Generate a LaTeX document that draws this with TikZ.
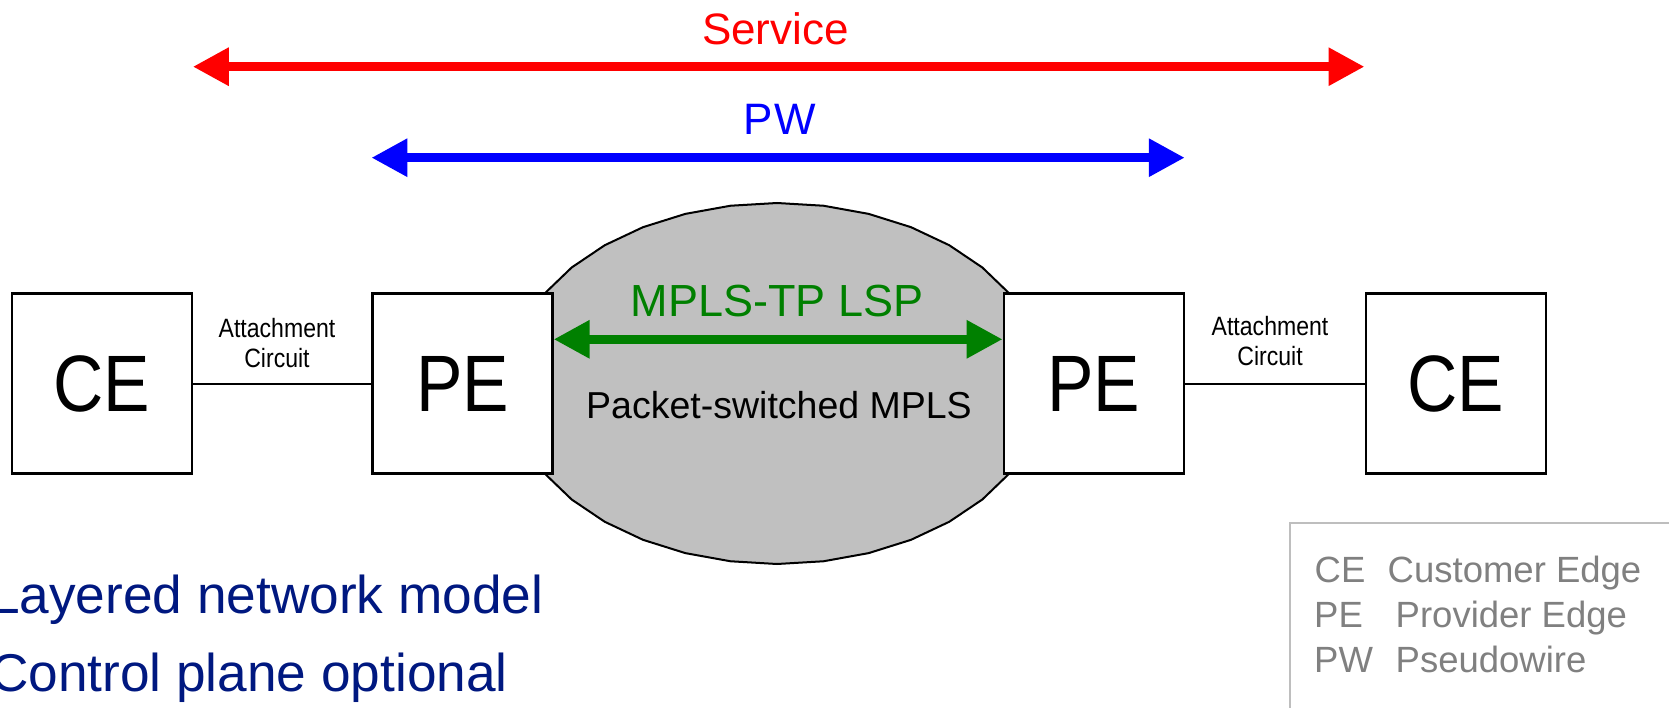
\documentclass[tikz,border=0pt]{standalone}
\usepackage{fontspec}
\setmainfont{Liberation Sans}
\usetikzlibrary{arrows.meta}
\definecolor{svcred}{RGB}{255,0,0}
\definecolor{pwblue}{RGB}{0,0,255}
\definecolor{lspgreen}{RGB}{0,128,0}
\definecolor{navytext}{RGB}{0,24,128}
\definecolor{cloudgray}{RGB}{192,192,192}
\definecolor{leggray}{RGB}{128,128,128}
\definecolor{legborder}{RGB}{190,190,190}
\newcommand{\fsz}[1]{\fontsize{#1}{#1}\selectfont}
\begin{document}
\begin{tikzpicture}[x=1pt,y=-1pt,
  box/.style={draw=black, line width=2.2pt, fill=white, minimum width=180pt,
    minimum height=180pt, inner sep=0pt, font=\fsz{80}},
  conn/.style={draw=black, line width=2pt},
  cloud/.style={draw=black, line width=2pt, fill=cloudgray, line join=miter},
  bigarrow/.style={line width=9.3pt,
    {Triangle[length=36pt,width=36pt]}-{Triangle[length=36pt,width=36pt]}},
  lbl/.style={anchor=base, inner sep=0pt},
  actext/.style={anchor=base, inner sep=0pt, align=center, font=\fontsize{26.5}{30}\selectfont},
  bullet/.style={anchor=base west, inner sep=0pt, text=navytext, font=\fsz{53.2}},
  legtext/.style={anchor=base west, inner sep=0pt, text=leggray, font=\fsz{36.5}},
  legendbox/.style={draw=legborder, line width=2pt, anchor=north west,
    minimum width=420pt, minimum height=260pt, inner sep=0pt}
]
\useasboundingbox (0,0) rectangle (1669,708);

% MPLS cloud (polygonal ellipse)
\draw[cloud] plot[samples at={0,10,...,350}] ({777+268*cos(\x)},{383.5+180.5*sin(\x)}) -- cycle;

% boxes
\node[box] (ce1) at (101.7,383.5) {\scalebox{0.87}[1]{CE}};
\node[box] (pe1) at (462.5,383.5) {\scalebox{0.87}[1]{PE}};
\node[box] (pe2) at (1093.7,383.5) {\scalebox{0.87}[1]{PE}};
\node[box] (ce2) at (1455.6,383.5) {\scalebox{0.87}[1]{CE}};

% attachment circuits
\draw[conn] (ce1.east) -- (pe1.west);
\draw[conn] (pe2.east) -- (ce2.west);
\node[actext] (acl) at (277,367.3) {\scalebox{0.87}[1]{Attachment}\\\scalebox{0.87}[1]{Circuit}};
\node[actext] (acr) at (1270,365.7) {\scalebox{0.87}[1]{Attachment}\\\scalebox{0.87}[1]{Circuit}};

% service arrow
\draw[bigarrow, svcred] ([yshift=316.8pt]ce1.east) -- ([yshift=316.8pt]ce2.west);
\node[lbl, text=svcred, font=\fsz{44}] (svc) at (775.4,45) {Service};

% PW arrow
\draw[bigarrow, pwblue] ([yshift=225.8pt]pe1.west) -- ([yshift=225.8pt]pe2.east);
\node[lbl, text=pwblue, font=\fsz{44}] (pw) at (780,134.5) {P\kern2ptW};

% LSP arrow
\draw[bigarrow, lspgreen] ([yshift=44.2pt]pe1.east) -- ([yshift=44.2pt]pe2.west);
\node[lbl, text=lspgreen, font=\fsz{45}] (lsp) at (777,316.7) {MPLS-TP\ LSP};
\node[lbl, text=black, font=\fsz{37.5}] (psm) at (779,418.3) {Packet-switched\ MPLS};

% bottom-left text
\node[bullet] (b1) at (-10,613.3) {Layered network model};
\node[bullet] (b2) at (-10,691.7) {Control plane optional};

% legend
\node[legendbox] (legend) at (1288.7,521.7) {};
\node[legtext] (l1a) at (1314.5,582) {CE};
\node[legtext] (l1b) at (1387.5,582) {Customer Edge};
\node[legtext] (l2a) at (1314,627) {PE};
\node[legtext] (l2b) at (1395.5,627) {Provider Edge};
\node[legtext] (l3a) at (1314,672) {PW};
\node[legtext] (l3b) at (1395.5,672) {Pseudowire};
\end{tikzpicture}
\end{document}
